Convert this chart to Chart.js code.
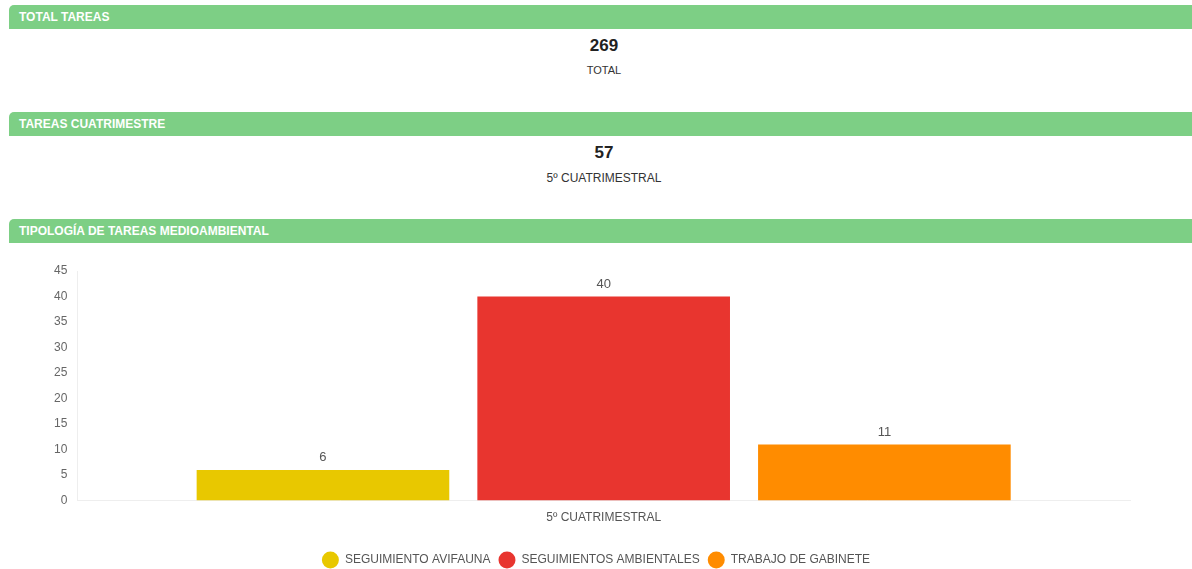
<!DOCTYPE html>
<html>
<head>
<meta charset="utf-8">
<script src="https://cdn.jsdelivr.net/npm/chart.js@4"></script>
<style>
  body { margin: 0; background: #fff; font-family: "Liberation Sans", Arial, sans-serif; width: 1192px; height: 569px; overflow: hidden; position: relative; }
  .hdr { position: absolute; left: 9px; right: 0; height: 24px; background: #7dcf85; border-top-left-radius: 5px;
         color: #fff; font-weight: bold; font-size: 12px; line-height: 24px; padding-left: 10px; box-sizing: border-box; }
  .big { position: absolute; left: 0; width: 1208px; text-align: center; font-weight: bold; font-size: 17px; color: #222; }
  .sub { position: absolute; left: 0; width: 1208px; text-align: center; font-size: 11px; color: #333; }
  #wrap { position: absolute; left: 0; top: 250px; width: 1192px; height: 326px; }
</style>
</head>
<body>
<div class="hdr" style="top:5px">TOTAL TAREAS</div>
<div class="big" style="top:36px">269</div>
<div class="sub" style="top:64px">TOTAL</div>

<div class="hdr" style="top:112px">TAREAS CUATRIMESTRE</div>
<div class="big" style="top:143px">57</div>
<div class="sub" style="top:171px;font-size:12px">5º CUATRIMESTRAL</div>

<div class="hdr" style="top:219px">TIPOLOGÍA DE TAREAS MEDIOAMBIENTAL</div>

<div id="wrap"><canvas id="chartTipologia"></canvas></div>

<script>
// datos
const categorias = ['5º CUATRIMESTRAL'];
const tipos = ['SEGUIMIENTO AVIFAUNA', 'SEGUIMIENTOS AMBIENTALES', 'TRABAJO DE GABINETE'];
const valores = [6, 40, 11];
const colores = ['#e8c800', '#e8352f', '#ff8c00'];
const ticksY = [0, 5, 10, 15, 20, 25, 30, 35, 40, 45];

const fuente = '"Liberation Sans", Arial, sans-serif';

// etiquetas encima de las barras
const valueLabels = {
    id: 'valueLabels',
    afterDatasetsDraw(chart) {
        const ctx = chart.ctx;
        ctx.save();
        ctx.font = '13px ' + fuente;
        ctx.fillStyle = '#555';
        ctx.textAlign = 'center';
        ctx.textBaseline = 'bottom';
        chart.data.datasets.forEach((ds, i) => {
            chart.getDatasetMeta(i).data.forEach((bar, j) => {
                ctx.fillText(ds.data[j], bar.x, bar.y - 6);
            });
        });
        ctx.restore();
    }
};

// leyenda centrada en todo el ancho del canvas
const legendFull = {
    id: 'legendFull',
    afterLayout(chart) {
        const lg = chart.legend;
        if (!lg) return;
        lg.left = 0;
        lg.right = chart.width;
        lg.width = chart.width;
    }
};

new Chart(document.getElementById('chartTipologia'), {
    type: 'bar',
    data: {
        labels: categorias,
        datasets: tipos.map((t, i) => ({
            label: t,
            data: [valores[i]],
            backgroundColor: colores[i]
        }))
    },
    options: {
        responsive: true,
        maintainAspectRatio: false,
        animation: false,
        layout: { padding: { left: 44, right: 62, top: 21, bottom: 0 } },
        plugins: {
            legend: {
                position: 'bottom',
                labels: {
                    usePointStyle: true,
                    pointStyle: 'circle',
                    pointStyleWidth: 17,
                    padding: 8,
                    color: '#555',
                    font: { size: 12, family: fuente }
                }
            },
            tooltip: { enabled: false }
        },
        scales: {
            x: {
                grid: { display: false, drawTicks: false },
                border: { color: '#eee' },
                afterFit: s => { s.height += 11; },
                ticks: { color: '#555', padding: 10, font: { size: 12, family: fuente } }
            },
            y: {
                min: 0, max: 45,
                afterBuildTicks: axis => { axis.ticks = ticksY.map(v => ({ value: v })); },
                grid: { display: false, drawTicks: false },
                border: { color: '#eee' },
                ticks: { color: '#666', padding: 10, font: { size: 12, family: fuente } }
            }
        }
    },
    plugins: [valueLabels, legendFull]
});
</script>
</body>
</html>
